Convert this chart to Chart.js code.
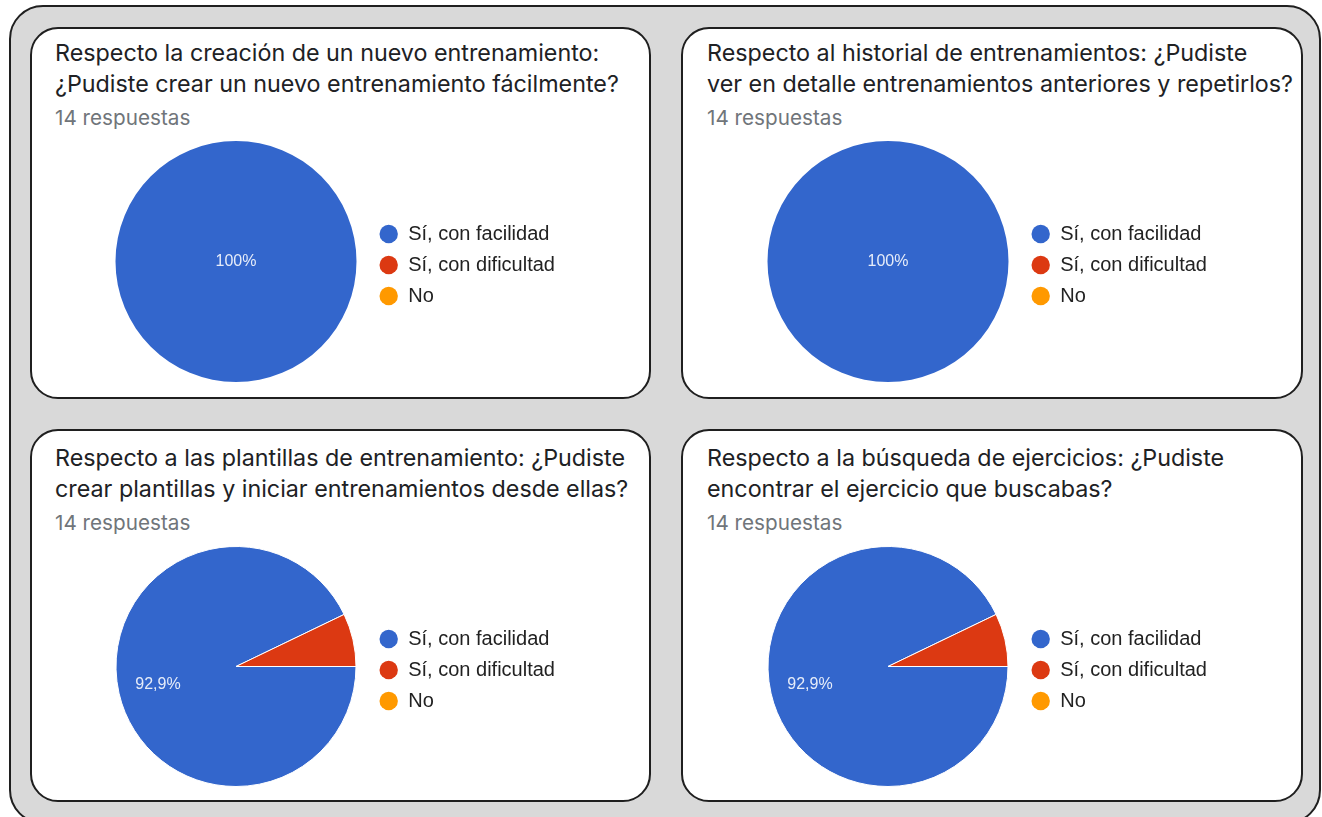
<!DOCTYPE html>
<html>
<head>
<meta charset="utf-8">
<script src="https://cdn.jsdelivr.net/npm/chart.js@4.4.1/dist/chart.umd.min.js"></script>
<style>
  html, body { margin: 0; padding: 0; background: #ffffff; width: 1322px; height: 817px; overflow: hidden; position: relative; }
  #panel { position: absolute; left: 9px; top: 5px; width: 1312px; height: 819px; box-sizing: border-box; background: #d9d9d9; border: 2px solid #1f1f1f; border-radius: 34px; }
  .card { position: absolute; box-sizing: border-box; background: #ffffff; border: 2px solid #1f1f1f; border-radius: 28px; }
  .title { position: absolute; font-family: "Inter", "Noto Sans", sans-serif; font-size: 23.3px; line-height: 31px; color: #202124; white-space: nowrap; }
  .sub { position: absolute; font-family: "Inter", "Noto Sans", sans-serif; font-size: 20.7px; line-height: 24px; color: #70757a; white-space: nowrap; }
  canvas { position: absolute; }
</style>
</head>
<body>
<div id="panel"></div>
<div id="root"></div>
<script>
// ---- data ----
const categories = ['Sí, con facilidad', 'Sí, con dificultad', 'No'];
const sliceColors = ['#3366cc', '#dc3912', '#ff9900'];
const titlesQ1 = ['Respecto la creación de un nuevo entrenamiento:', '¿Pudiste crear un nuevo entrenamiento fácilmente?'];
const titlesQ2 = ['Respecto al historial de entrenamientos: ¿Pudiste', 'ver en detalle entrenamientos anteriores y repetirlos?'];
const titlesQ3 = ['Respecto a las plantillas de entrenamiento: ¿Pudiste', 'crear plantillas y iniciar entrenamientos desde ellas?'];
const titlesQ4 = ['Respecto a la búsqueda de ejercicios: ¿Pudiste', 'encontrar el ejercicio que buscabas?'];
const valuesQ1 = [14, 0, 0];
const valuesQ2 = [14, 0, 0];
const valuesQ3 = [13, 1, 0];
const valuesQ4 = [13, 1, 0];
const responsesLabel = '14 respuestas';

const questions = [
  { titles: titlesQ1, values: valuesQ1 },
  { titles: titlesQ2, values: valuesQ2 },
  { titles: titlesQ3, values: valuesQ3 },
  { titles: titlesQ4, values: valuesQ4 }
];

// ---- layout ----
const cardBoxes = [
  { left: 30, top: 27, w: 621, h: 372 },
  { left: 681, top: 27, w: 622, h: 372 },
  { left: 30, top: 429, w: 621, h: 373 },
  { left: 681, top: 429, w: 622, h: 373 }
];
const offsets = [ {dx: 0, dy: 0}, {dx: 652, dy: 0}, {dx: 0, dy: 405}, {dx: 652, dy: 405} ];
const CANVAS_LEFT = 60, CANVAS_TOP = 130, CANVAS_W = 560, CANVAS_H = 262;
const PIE_CX = 236;        // page x of pie centre (card 1)
const LEGEND_LEFT = 368.2; // page x of legend box left (card 1)

function fmtPct(v, total) {
  const p = Math.round(v / total * 1000) / 10;
  return (Number.isInteger(p) ? String(p) : p.toFixed(1).replace('.', ',')) + '%';
}

const pieLabelPlugin = {
  id: 'pieLabels',
  afterDatasetsDraw(chart) {
    const ctx = chart.ctx;
    const data = chart.data.datasets[0].data;
    const total = data.reduce((a, b) => a + b, 0);
    const meta = chart.getDatasetMeta(0);
    ctx.save();
    ctx.font = '16px "Liberation Sans", Arial, sans-serif';
    ctx.fillStyle = 'rgba(255,255,255,0.88)';
    ctx.textAlign = 'center';
    ctx.textBaseline = 'middle';
    meta.data.forEach((arc, i) => {
      const v = data[i];
      if (!v || v / total < 0.1) return;
      const p = arc.getProps(['x', 'y', 'startAngle', 'endAngle', 'outerRadius'], true);
      let x = p.x, y = p.y;
      if (v < total) {
        const mid = (p.startAngle + p.endAngle) / 2;
        const d = p.outerRadius * 0.667;
        x += Math.cos(mid) * d;
        y += Math.sin(mid) * d;
      }
      ctx.fillText(fmtPct(v, total), x, y);
    });
    ctx.restore();
  }
};

const root = document.getElementById('root');
questions.forEach((q, idx) => {
  const cb = cardBoxes[idx];
  const card = document.createElement('div');
  card.className = 'card';
  Object.assign(card.style, { left: cb.left + 'px', top: cb.top + 'px', width: cb.w + 'px', height: cb.h + 'px' });
  root.appendChild(card);

  const o = offsets[idx];
  const t = document.createElement('div');
  t.className = 'title';
  t.style.left = (55 + o.dx) + 'px';
  t.style.top = (37 + o.dy) + 'px';
  t.innerHTML = q.titles.join('<br>');
  root.appendChild(t);

  const s = document.createElement('div');
  s.className = 'sub';
  s.style.left = (55 + o.dx) + 'px';
  s.style.top = (106 + o.dy) + 'px';
  s.textContent = responsesLabel;
  root.appendChild(s);

  const cv = document.createElement('canvas');
  cv.width = CANVAS_W; cv.height = CANVAS_H;
  cv.style.left = (CANVAS_LEFT + o.dx) + 'px';
  cv.style.top = (CANVAS_TOP + o.dy) + 'px';
  cv.style.width = CANVAS_W + 'px'; cv.style.height = CANVAS_H + 'px';
  root.appendChild(cv);

  const total = q.values.reduce((a, b) => a + b, 0);
  const legendLeftCanvas = LEGEND_LEFT - CANVAS_LEFT;
  const padLeft = 2 * (PIE_CX - CANVAS_LEFT) - legendLeftCanvas;
  const chart = new Chart(cv.getContext('2d'), {
    type: 'pie',
    data: {
      labels: categories,
      datasets: [{
        data: q.values,
        backgroundColor: sliceColors,
        borderColor: '#ffffff',
        borderWidth: (c) => (c.raw > 0 && c.raw < total) ? 1 : 0,
        hoverOffset: 0
      }]
    },
    options: {
      responsive: false,
      animation: false,
      devicePixelRatio: 1,
      rotation: 90,
      layout: { padding: { left: padLeft, right: 0, top: 11, bottom: 10 } },
      plugins: {
        tooltip: { enabled: false },
        title: { display: false },
        legend: {
          display: true,
          position: 'right',
          align: 'center',
          title: { display: true, text: ' ', font: { size: 7, lineHeight: 1 }, padding: 0 },
          labels: {
            usePointStyle: true,
            pointStyle: 'circle',
            boxWidth: 19,
            boxHeight: 13,
            padding: 11,
            color: '#222222',
            font: { family: '"Liberation Sans", Arial, sans-serif', size: 20 },
            generateLabels: (ch) => Chart.overrides.pie.plugins.legend.labels.generateLabels(ch).map(l => Object.assign(l, { lineWidth: 0, strokeStyle: 'rgba(0,0,0,0)', hidden: false }))
          }
        }
      }
    },
    plugins: [pieLabelPlugin]
  });
  // place the legend box at the wanted x by adjusting right padding
  const lw = chart.legend.width;
  chart.options.layout.padding.right = CANVAS_W - lw - legendLeftCanvas;
  chart.update();
});
</script>
</body>
</html>
